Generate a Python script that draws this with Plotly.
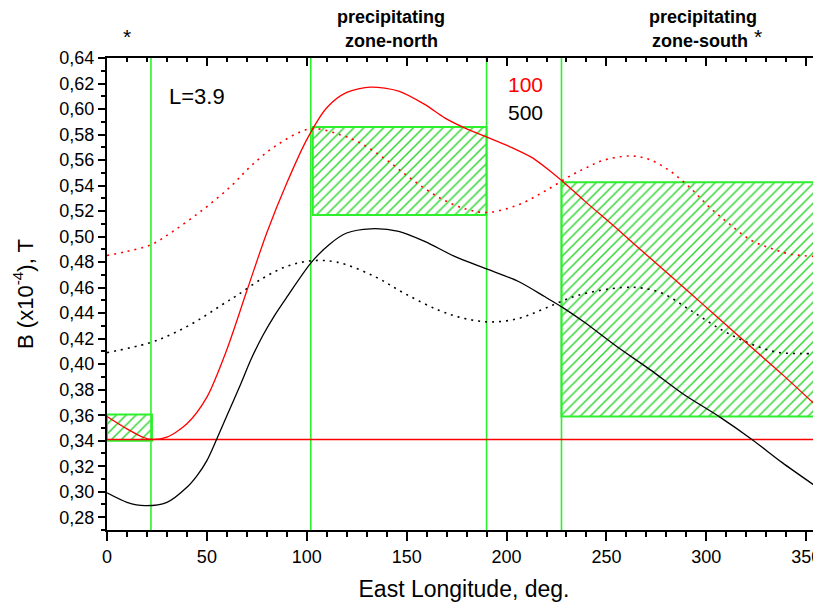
import plotly.graph_objects as go

# ---- data ----
lon_red = [0, 10, 18, 22, 30, 40, 50, 60, 70, 80, 90, 100, 110, 120, 132, 146, 159, 169, 179,
           189, 203, 213, 223, 228, 239, 255, 272, 291, 305, 322, 338, 357.4]
b_red = [0.359, 0.3493, 0.3427, 0.341, 0.3428, 0.3533, 0.3742, 0.4115, 0.4575, 0.5030, 0.5420, 0.5760,
         0.6010, 0.6130, 0.6172, 0.614, 0.6036, 0.5931, 0.5852, 0.5787, 0.5695, 0.5617, 0.5499,
         0.5434, 0.528, 0.5065, 0.483, 0.457, 0.4375, 0.414, 0.392, 0.364]

lon_black = [0, 10, 19, 30, 40, 45, 50, 55, 60, 67, 72, 78, 84, 90, 102, 111, 120, 132, 146, 159, 174,
             190, 206, 219, 228, 239, 255, 272, 288, 307, 323, 338, 357.4]
b_black = [0.2991, 0.2917, 0.2891, 0.2917, 0.3035, 0.3125, 0.3244, 0.3415, 0.3595, 0.3847, 0.4035,
           0.4225, 0.4385, 0.4525, 0.4792, 0.4935, 0.5028, 0.5061, 0.5041, 0.4962, 0.4845, 0.4747,
           0.4648, 0.4530, 0.4445, 0.4328, 0.4140, 0.3955, 0.3770, 0.3583, 0.3408, 0.3228, 0.3014]

lon_red_dot = [0, 10, 22, 33, 48, 62, 72, 85, 102, 117, 127, 140, 153, 167, 180, 191, 206, 219, 233,
               240, 248, 262, 272, 282, 292, 302, 312, 322, 332, 342, 357.4]
b_red_dot = [0.4852, 0.4884, 0.4936, 0.5041, 0.5211, 0.5394, 0.5552, 0.5717, 0.5845, 0.5797, 0.5732,
             0.560, 0.5444, 0.530, 0.5214, 0.519, 0.525, 0.5355, 0.5486, 0.554, 0.5596, 0.5632,
             0.5601, 0.5512, 0.5381, 0.5224, 0.5093, 0.4975, 0.491, 0.4863, 0.4842]

lon_black_dot = [0, 21, 33, 45, 58, 65, 78, 90, 102, 115, 134, 149, 166, 179, 192, 206, 219, 236,
                 258, 268, 278, 292, 308, 322, 335, 347, 357.4]
b_black_dot = [0.409, 0.4166, 0.424, 0.4339, 0.447, 0.4538, 0.4674, 0.4766, 0.481, 0.48, 0.4687,
               0.4554, 0.4423, 0.4358, 0.4331, 0.4358, 0.4436, 0.4541, 0.4601, 0.4596, 0.4556,
               0.4423, 0.4266, 0.4161, 0.4095, 0.4083, 0.4085]

threshold_lon = [0, 357.4]
threshold_b = [0.341, 0.341]

# precipitating-zone boxes: (lon_from, lon_to, B_low, B_high)
box_lon0 = [0, 103, 227.5]
box_lon1 = [22.5, 190, 357.4]
box_b0 = [0.340, 0.517, 0.359]
box_b1 = [0.3606, 0.586, 0.5426]

zone_lines = [22, 102, 190, 227.5]

x_range = [0, 357.4]
y_range = [0.27, 0.64]

GREEN = "#2cf02c"
HATCH = "#33d633"
FONT = "Liberation Sans, Arial, sans-serif"

fig = go.Figure()

# hatched boxes as bars
for x0, x1, y0, y1 in zip(box_lon0, box_lon1, box_b0, box_b1):
    fig.add_trace(go.Bar(
        x=[(x0 + x1) / 2], y=[y1 - y0], base=[y0], width=[x1 - x0],
        marker=dict(color="white", line=dict(color=GREEN, width=2),
                    pattern=dict(shape="/", fgcolor=HATCH, bgcolor="white", size=7,
                                 solidity=0.22, fillmode="replace")),
        showlegend=False, hoverinfo="skip"))

# vertical zone lines
for xv in zone_lines:
    fig.add_trace(go.Scatter(x=[xv, xv], y=y_range, mode="lines",
                             line=dict(color=GREEN, width=1.6), showlegend=False, hoverinfo="skip"))

fig.add_trace(go.Scatter(x=threshold_lon, y=threshold_b, mode="lines",
                         line=dict(color="red", width=1.5), showlegend=False))
fig.add_trace(go.Scatter(x=lon_red_dot, y=b_red_dot, mode="lines", line_shape="spline",
                         line=dict(color="red", width=1.6, dash="2px,5px"), showlegend=False))
fig.add_trace(go.Scatter(x=lon_black_dot, y=b_black_dot, mode="lines", line_shape="spline",
                         line=dict(color="black", width=1.6, dash="2px,5px"), showlegend=False))
fig.add_trace(go.Scatter(x=lon_red, y=b_red, mode="lines", line_shape="spline",
                         line=dict(color="red", width=1.3, smoothing=0.8), showlegend=False))
fig.add_trace(go.Scatter(x=lon_black, y=b_black, mode="lines", line_shape="spline",
                         line=dict(color="black", width=1.3, smoothing=0.8), showlegend=False))

# empty trace so the mirrored (inside-tick) axes exist
fig.add_trace(go.Scatter(x=[None], y=[None], xaxis="x2", yaxis="y2", mode="lines",
                         showlegend=False, hoverinfo="skip"))

tickfont = dict(family=FONT, size=18, color="black")
# page body has an 8px margin: figure is sized/offset to compensate
fig.update_layout(
    width=813, height=596,
    margin=dict(l=99, r=0, t=50, b=74, autoexpand=False),
    plot_bgcolor="white", paper_bgcolor="white",
    separators=",.",
    barmode="overlay",
    font=dict(family=FONT, color="black"),
    xaxis=dict(range=x_range, showgrid=False, zeroline=False, showline=True, linecolor="black",
               linewidth=2, ticks="outside", tick0=0, dtick=50, ticklen=9, tickwidth=1.5,
               tickcolor="black", tickfont=tickfont, automargin=False, ticklabeloverflow="allow",
               minor=dict(ticks="outside", dtick=10, ticklen=5, tickwidth=1.5, tickcolor="black"),
               title=dict(text="East Longitude, deg.", font=dict(family=FONT, size=23), standoff=15)),
    yaxis=dict(range=y_range, showgrid=False, zeroline=False, showline=True, linecolor="black",
               linewidth=2, ticks="outside", tick0=0.28, dtick=0.02, ticklen=7, tickwidth=1.5,
               tickcolor="black", tickformat=".2f", tickfont=tickfont, automargin=False,
               minor=dict(ticks="outside", dtick=0.01, ticklen=4, tickwidth=1.5, tickcolor="black"),
               title=dict(text="B (x10<sup>-4</sup>), T", font=dict(family=FONT, size=22), standoff=20)),
    xaxis2=dict(range=x_range, overlaying="x", side="top", anchor="y2", showgrid=False,
                zeroline=False, showline=True, linecolor="black", linewidth=2, ticks="inside",
                tick0=0, dtick=50, ticklen=8, tickwidth=1.5, tickcolor="black", showticklabels=False,
                automargin=False,
                minor=dict(ticks="inside", dtick=10, ticklen=4, tickwidth=1.5, tickcolor="black")),
    yaxis2=dict(range=y_range, overlaying="y", side="right", anchor="x2", showgrid=False,
                zeroline=False, showline=True, linecolor="black", linewidth=2, ticks="inside",
                tick0=0.28, dtick=0.02, ticklen=6, tickwidth=1.5, tickcolor="black",
                showticklabels=False, automargin=False,
                minor=dict(ticks="inside", dtick=0.01, ticklen=3, tickwidth=1.5, tickcolor="black")),
)

ann = [
    dict(text="L=3.9", x=30, y=0.61, xref="x", yref="y", xanchor="left", yanchor="middle",
         font=dict(size=22, color="black")),
    dict(text="100", x=209.7, y=0.619, xref="x", yref="y", xanchor="center", yanchor="middle",
         font=dict(size=21, color="red")),
    dict(text="500", x=209.7, y=0.597, xref="x", yref="y", xanchor="center", yanchor="middle",
         font=dict(size=21, color="black")),
    dict(text="<b>precipitating</b>", x=0.3978, y=1.0876, xref="paper", yref="paper",
         xanchor="center", yanchor="middle", font=dict(size=18, color="black")),
    dict(text="<b>zone-north</b>", x=0.3978, y=1.0367, xref="paper", yref="paper",
         xanchor="center", yanchor="middle", font=dict(size=18, color="black")),
    dict(text="<b>precipitating</b>", x=0.8345, y=1.0876, xref="paper", yref="paper",
         xanchor="center", yanchor="middle", font=dict(size=18, color="black")),
    dict(text="<b>zone-south</b>", x=0.830, y=1.0367, xref="paper", yref="paper",
         xanchor="center", yanchor="middle", font=dict(size=18, color="black")),
    dict(text="*", x=0.9118, y=1.045, xref="paper", yref="paper",
         xanchor="center", yanchor="middle", font=dict(size=21, color="black")),
    dict(text="*", x=0.028, y=1.045, xref="paper", yref="paper",
         xanchor="center", yanchor="middle", font=dict(size=21, color="black")),
]
for a in ann:
    a["showarrow"] = False
    a["font"]["family"] = FONT
fig.update_layout(annotations=ann)

fig.write_html("out.html")
